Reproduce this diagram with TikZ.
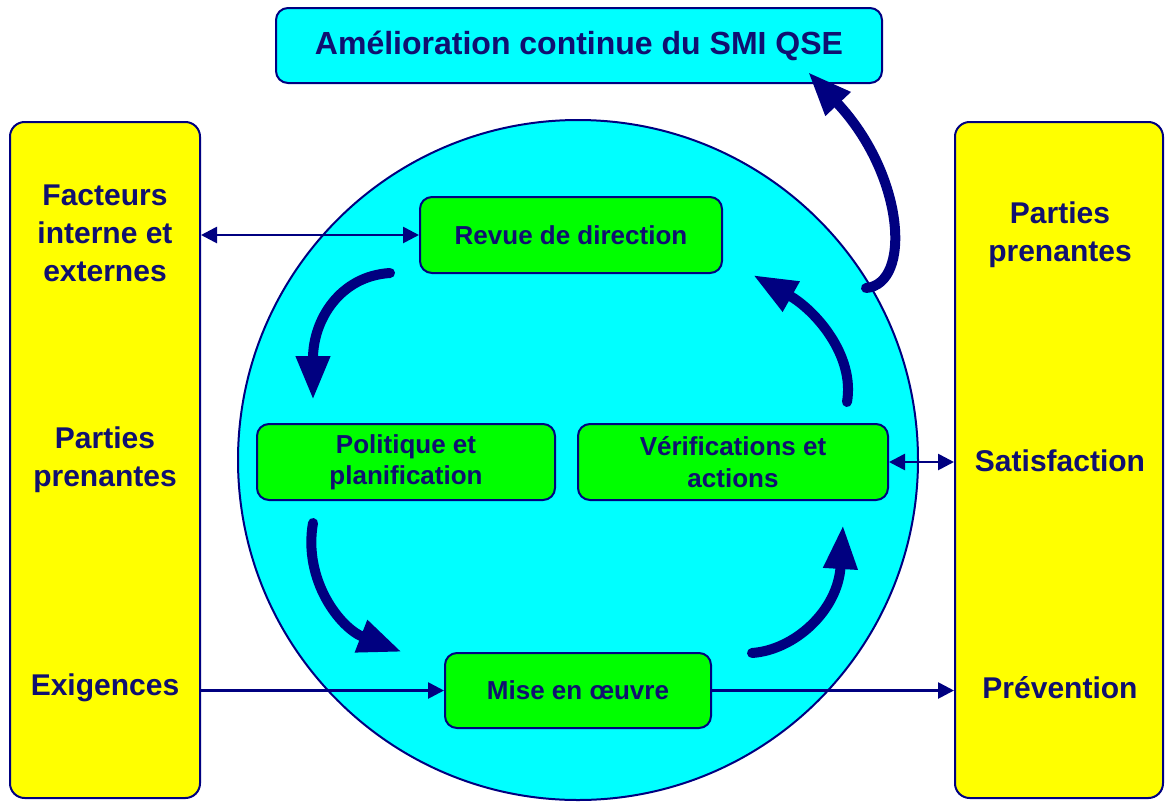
\documentclass[tikz,border=0pt]{standalone}
\usepackage{fontspec}
\setmainfont{Liberation Sans}
\usetikzlibrary{arrows.meta}

\definecolor{navyline}{RGB}{0,0,128}
\definecolor{navytext}{RGB}{16,16,112}
\definecolor{cyanfill}{RGB}{0,255,255}
\definecolor{greenfill}{RGB}{0,255,0}
\definecolor{yellowfill}{RGB}{255,255,0}

\tikzset{
  box/.style={draw=navyline, line width=1.5pt, rounded corners=9pt, inner sep=0pt},
  greenbox/.style={box, fill=greenfill, minimum height=57pt, font=\bfseries\fontsize{19.5}{23.5}\selectfont,
    text=navytext, align=center},
  sidebox/.style={box, fill=yellowfill, minimum height=507pt, rounded corners=11pt},
  sidetext/.style={font=\bfseries\fontsize{22.5}{28.5}\selectfont, text=navytext, align=center},
  thinarrow/.style={draw=navyline, line width=2pt, -{Triangle[length=12pt,width=12pt]}},
  thinboth/.style={draw=navyline, line width=2pt, {Triangle[length=12pt,width=12pt]}-{Triangle[length=12pt,width=12pt]}},
  cyclearrow/.style={draw=navyline, line width=7.5pt, line cap=round, -{Triangle[length=33pt,width=24pt]}}
}

\begin{document}
\begin{tikzpicture}[x=0.75pt, y=-0.75pt]
  \useasboundingbox (0,0) rectangle (1165,801);

  % central cycle disc
  \node[circle, draw=navyline, line width=1.5pt, fill=cyanfill, minimum size=510pt, inner sep=0pt] (disc) at (578,460) {};

  % side columns
  \node[sidebox, minimum width=142.5pt] (lbox) at (105,460) {};
  \node[sidebox, minimum width=156pt] (rbox) at (1059,460) {};

  \node[sidetext] (lt1) at (105,233) {Facteurs\\interne et\\externes};
  \node[sidetext] (lt2) at (105,460) {Parties\\prenantes};
  \node[sidetext] (lt3) at (105,688) {Exigences};
  \node[sidetext] (rt1) at (1060,235) {Parties\\prenantes};
  \node[sidetext] (rt2) at (1060,461) {Satisfaction};
  \node[sidetext] (rt3) at (1060,688) {Prévention};

  % top goal
  \node[box, fill=cyanfill, minimum width=454.5pt, minimum height=56.25pt,
        font=\bfseries\fontsize{24}{28}\selectfont, text=navytext] (top) at (579,45.5)
        {Amélioration continue du SMI QSE};

  % PDCA steps
  \node[greenbox, minimum width=226.5pt] (rev) at (571,235) {Revue de direction};
  \node[greenbox, minimum width=223.5pt] (pol) at (406,462) {Politique et\\planification};
  \node[greenbox, minimum width=232.5pt] (ver) at (733,462) {Vérifications et\\actions};
  \node[greenbox, minimum width=199.5pt, minimum height=56.25pt] (mise) at (578,690.5) {Mise en œuvre};

  % links with the stakeholders
  \draw[thinboth] (lbox.east |- rev.west) -- (rev.west);
  \draw[thinarrow] (lbox.east |- mise.west) -- (mise.west);
  \draw[thinarrow] (mise.east) -- (rbox.west |- mise.east);
  \draw[thinboth] (ver.east) -- (rbox.west |- ver.east);

  % cycle arrows
  \coordinate (c1s) at (390,273);  \coordinate (c1e) at (313,400);
  \coordinate (c2s) at (313,523);  \coordinate (c2e) at (402,652);
  \coordinate (c3s) at (752,653);  \coordinate (c3e) at (843,525);
  \coordinate (c4s) at (847,402);  \coordinate (c4e) at (753,275);
  \coordinate (c5s) at (866,288);  \coordinate (c5e) at (808,72);

  \draw[cyclearrow] (c1s) .. controls (340,276) and (313,320) .. (c1e);
  \draw[cyclearrow] (c2s) .. controls (303,580) and (340,628) .. (c2e);
  \draw[cyclearrow] (c3s) .. controls (795,650) and (838,610) .. (c3e);
  \draw[cyclearrow] (c4s) .. controls (855,355) and (815,310) .. (c4e);
  \draw[cyclearrow] (c5s) .. controls (912,284) and (905,175) .. (c5e);
\end{tikzpicture}
\end{document}
